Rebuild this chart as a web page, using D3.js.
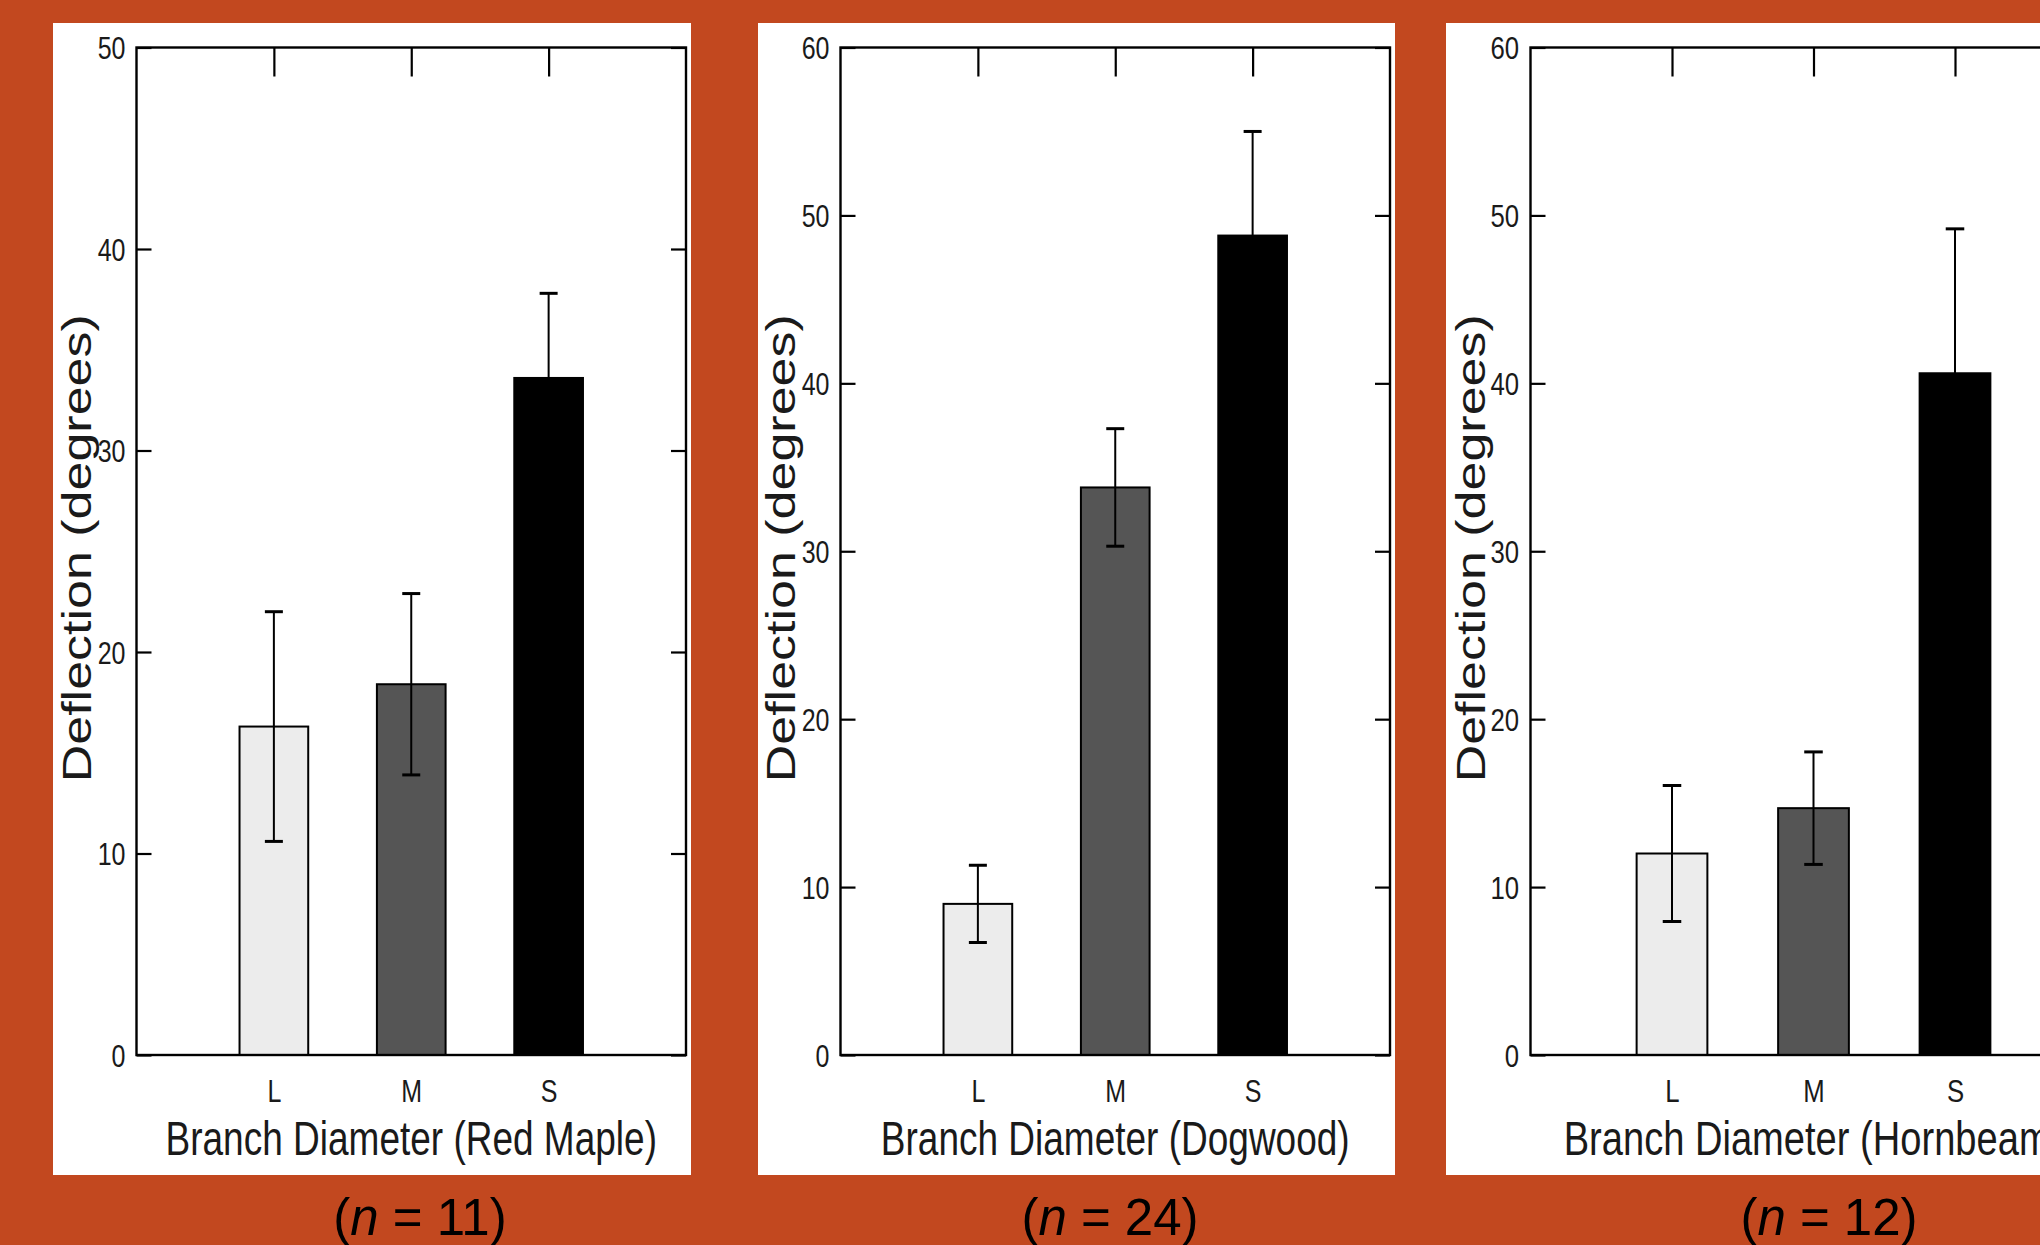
<!DOCTYPE html>
<html>
<head>
<meta charset="utf-8">
<script src="https://cdn.jsdelivr.net/npm/d3@7/dist/d3.min.js"></script>
<style>
  html, body { margin: 0; padding: 0; background: #C2481F; }
  svg { display: block; }
  text { font-family: "Liberation Sans", Arial, sans-serif; }
</style>
</head>
<body>
<script>
// ---------------- data ----------------
const categories = ["L", "M", "S"];
const species = ["Red Maple", "Dogwood", "Hornbeam"];
const sampleSizes = [11, 24, 12];
const yMaxima = [50, 60, 60];
const yTicksRedMaple = [0, 10, 20, 30, 40, 50];
const yTicksOther = [0, 10, 20, 30, 40, 50, 60];
const meansRedMaple = [16.3, 18.4, 33.6];
const errorsRedMaple = [5.7, 4.5, 4.2];
const meansDogwood = [9.0, 33.8, 48.8];
const errorsDogwood = [2.3, 3.5, 6.2];
const meansHornbeam = [12.0, 14.7, 40.6];
const errorsHornbeam = [4.05, 3.35, 8.6];
const barColors = ["#ECECEC", "#555555", "#000000"];

const datasets = [
  { name: species[0], n: sampleSizes[0], yMax: yMaxima[0], ticks: yTicksRedMaple, means: meansRedMaple, errs: errorsRedMaple },
  { name: species[1], n: sampleSizes[1], yMax: yMaxima[1], ticks: yTicksOther, means: meansDogwood, errs: errorsDogwood },
  { name: species[2], n: sampleSizes[2], yMax: yMaxima[2], ticks: yTicksOther, means: meansHornbeam, errs: errorsHornbeam }
];

// ---------------- layout ----------------
const W = 2040, H = 1245;
const layout = [
  { box: [53, 23, 691, 1175],  plot: [136.5, 47.5, 686, 1055],    s: 1.0,  nX: 420 },
  { box: [758, 23, 1395, 1175], plot: [840.5, 47.5, 1390, 1055],  s: 1.0,  nX: 1110 },
  { box: [1446, 23, 2084, 1175], plot: [1530.5, 47.5, 2096.5, 1055], s: 1.03, nX: 1829 }
];
const kStretch = 1.3;   // vertical stretch of the original figure text

const svg = d3.select("body").append("svg")
  .attr("width", W).attr("height", H);

svg.append("rect").attr("width", W).attr("height", H).attr("fill", "#C2481F");

datasets.forEach((ds, i) => {
  const L = layout[i];
  const [px0, py0, px1, py1] = L.plot;
  const s = L.s;
  const g = svg.append("g");

  // white panel
  g.append("rect")
    .attr("x", L.box[0]).attr("y", L.box[1])
    .attr("width", L.box[2] - L.box[0]).attr("height", L.box[3] - L.box[1])
    .attr("fill", "#ffffff");

  const x = d3.scaleLinear().domain([0, categories.length + 1]).range([px0, px1]);
  const y = d3.scaleLinear().domain([0, ds.yMax]).range([py1, py0]);
  const barW = x(0.5) - x(0);

  // bars
  g.selectAll("rect.bar").data(ds.means).join("rect")
    .attr("class", "bar")
    .attr("x", (d, j) => x(j + 1) - barW / 2)
    .attr("y", d => y(d))
    .attr("width", barW)
    .attr("height", d => y(0) - y(d))
    .attr("fill", (d, j) => barColors[j])
    .attr("stroke", "#000").attr("stroke-width", 2);

  // error bars
  const eb = g.selectAll("g.err").data(ds.means.map((m, j) => ({ m, e: ds.errs[j], j }))).join("g").attr("class", "err");
  eb.append("line")
    .attr("x1", d => x(d.j + 1)).attr("x2", d => x(d.j + 1))
    .attr("y1", d => y(d.m - d.e)).attr("y2", d => y(d.m + d.e))
    .attr("stroke", "#000").attr("stroke-width", 2);
  [1, -1].forEach(sign => {
    eb.append("line")
      .attr("x1", d => x(d.j + 1) - 9 * s).attr("x2", d => x(d.j + 1) + 9 * s)
      .attr("y1", d => y(d.m + sign * d.e)).attr("y2", d => y(d.m + sign * d.e))
      .attr("stroke", "#000").attr("stroke-width", 3);
  });

  // left axis with inward ticks
  const la = g.append("g").attr("transform", `translate(${px0},0)`)
    .call(d3.axisLeft(y).tickValues(ds.ticks).tickSizeInner(-15).tickSizeOuter(0).tickPadding(11));
  la.select(".domain").remove();
  la.selectAll(".tick line").attr("stroke", "#000").attr("stroke-width", 2.2);
  la.selectAll(".tick text")
    .attr("font-size", 25).attr("fill", "#1a1a1a")
    .attr("dy", "0.36em")
    .attr("transform", `scale(${s},1.25)`);

  // right axis
  const ra = g.append("g").attr("transform", `translate(${px1},0)`)
    .call(d3.axisRight(y).tickValues(ds.ticks).tickSizeInner(-15).tickSizeOuter(0).tickFormat(""));
  ra.select(".domain").remove();
  ra.selectAll(".tick line").attr("stroke", "#000").attr("stroke-width", 2.2);

  // top axis ticks
  const ta = g.append("g").attr("transform", `translate(0,${py0})`)
    .call(d3.axisTop(x).tickValues(categories.map((c, j) => j + 1)).tickSizeInner(-29).tickSizeOuter(0).tickFormat(""));
  ta.select(".domain").remove();
  ta.selectAll(".tick line").attr("stroke", "#000").attr("stroke-width", 2.2);

  // bottom axis labels
  const ba = g.append("g").attr("transform", `translate(0,${py1})`)
    .call(d3.axisBottom(x).tickValues(categories.map((c, j) => j + 1)).tickSize(0).tickFormat(v => categories[v - 1]));
  ba.select(".domain").remove();
  ba.selectAll(".tick text")
    .attr("font-size", 25).attr("fill", "#1a1a1a")
    .attr("y", 0).attr("dy", 0)
    .attr("transform", `translate(0,47) scale(${s},1.25)`);

  // frame
  g.append("rect")
    .attr("x", px0).attr("y", py0)
    .attr("width", px1 - px0).attr("height", py1 - py0)
    .attr("fill", "none").attr("stroke", "#000").attr("stroke-width", 2.4);

  // x-axis title
  g.append("text")
    .attr("transform", `translate(${x(2)},1155) scale(${s},${kStretch})`)
    .attr("text-anchor", "middle")
    .attr("font-size", 37).attr("fill", "#1a1a1a")
    .text(`Branch Diameter (${ds.name})`);

  // y-axis title
  g.append("text")
    .attr("transform", `translate(${px0 - 45.5},${(py0 + py1) / 2 - 3}) scale(${s},${kStretch}) rotate(-90)`)
    .attr("text-anchor", "middle")
    .attr("font-size", 40).attr("fill", "#1a1a1a")
    .text("Deflection (degrees)");

  // sample size below panel
  const nt = svg.append("text")
    .attr("x", L.nX).attr("y", 1235)
    .attr("text-anchor", "middle")
    .attr("font-size", 51).attr("fill", "#000");
  nt.append("tspan").text("(");
  nt.append("tspan").attr("font-style", "italic").text("n");
  nt.append("tspan").text(` = ${ds.n})`);
});
</script>
</body>
</html>
